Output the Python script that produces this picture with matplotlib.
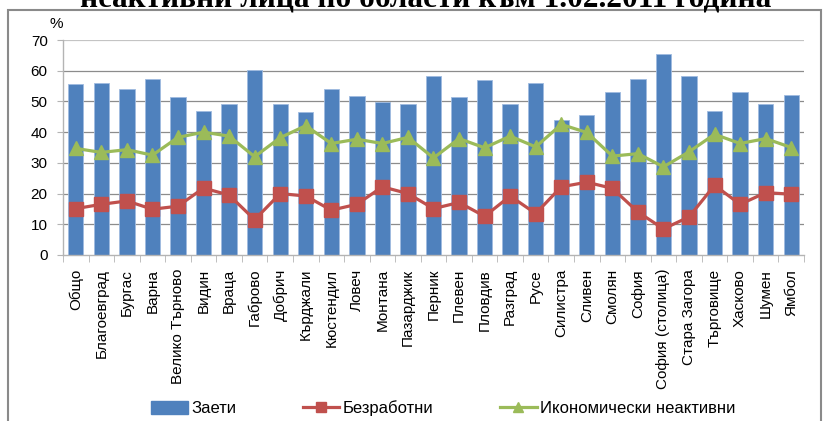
import numpy as np
import matplotlib
matplotlib.use('Agg')
import matplotlib.pyplot as plt
from matplotlib.patches import Rectangle, Patch
from matplotlib.lines import Line2D

plt.rcParams['font.family'] = ['Liberation Sans', 'DejaVu Sans']

# области и стойности в проценти
oblasti = ['Общо', 'Благоевград', 'Бургас', 'Варна', 'Велико Търново', 'Видин',
           'Враца', 'Габрово', 'Добрич', 'Кърджали', 'Кюстендил', 'Ловеч',
           'Монтана', 'Пазарджик', 'Перник', 'Плевен', 'Пловдив', 'Разград',
           'Русе', 'Силистра', 'Сливен', 'Смолян', 'София', 'София (столица)',
           'Стара Загора', 'Търговище', 'Хасково', 'Шумен', 'Ямбол']
zaeti = [55.6, 56.0, 54.2, 57.3, 51.6, 46.8, 49.1, 60.1, 49.3, 46.5, 54.2, 51.8,
         49.7, 49.3, 58.2, 51.3, 57.1, 49.1, 55.9, 44.1, 45.5, 53.0, 57.3, 65.5,
         58.2, 46.8, 53.0, 49.3, 52.2]
bezrabotni = [15.1, 16.5, 17.6, 14.9, 15.9, 21.8, 19.5, 11.5, 20.0, 19.2, 14.6,
              16.5, 22.2, 20.0, 15.1, 17.1, 12.6, 19.2, 13.5, 22.2, 23.7, 21.7,
              14.0, 8.5, 12.4, 22.7, 16.5, 20.3, 19.8]
neaktivni = [34.7, 33.4, 34.3, 32.5, 38.3, 40.0, 38.7, 32.0, 38.2, 42.1, 36.3,
             37.7, 36.3, 38.3, 31.6, 37.9, 34.9, 38.7, 35.2, 42.5, 39.9, 32.2,
             33.0, 28.7, 33.6, 39.3, 36.3, 37.9, 35.0]

blue = '#4f81bd'
red = '#c0504d'
green = '#9bbb59'

fig = plt.figure(figsize=(8.28, 4.21), dpi=100)
ax = fig.add_axes([63/828, 1 - 255/421, (804 - 63)/828, (255 - 40)/421])

x = np.arange(len(oblasti))
ax.bar(x, zaeti, width=0.6, color=blue, edgecolor='#9fbbe0', linewidth=0.6, zorder=2)
ax.plot(x, bezrabotni, color=red, lw=2.3, marker='s', markersize=9.5, zorder=3)
ax.plot(x, neaktivni, color=green, lw=2.3, marker='^', markersize=10.5, zorder=4)

ax.set_xlim(-0.5, len(oblasti) - 0.5)
ax.set_ylim(0, 70)

# хоризонтални линии на мрежата
for v in range(10, 70, 10):
    ax.axhline(v, color='#8c8c8c', lw=0.9, zorder=1)
ax.axhline(70, color='#c4c4c4', lw=1.6, zorder=1)

for s in ['top', 'right']:
    ax.spines[s].set_visible(False)
for s in ['left', 'bottom']:
    ax.spines[s].set_color('#b4b4b4')
    ax.spines[s].set_linewidth(1.0)

ax.set_yticks(range(0, 80, 10))
ax.tick_params(axis='y', length=4, color='#b4b4b4', pad=7, labelsize=11)
ax.set_xticks(x)
ax.set_xticklabels(oblasti, rotation=90, ha='center', va='top', fontsize=11)
ax.tick_params(axis='x', which='major', length=0, pad=10)
ax.set_xticks(np.arange(-0.5, len(oblasti)), minor=True)
ax.tick_params(axis='x', which='minor', length=5, color='#b4b4b4')

fig.text(56/828, 1 - 24/421, '%', fontsize=11, ha='center', va='center')

# заглавие, отрязано в горния край
fig.text(426/828, 1 - 6/421, 'неактивни лица по области към 1.02.2011 година',
         fontsize=22.5, fontweight='bold', family='Liberation Serif',
         ha='center', va='baseline')

# рамка около графиката
fig.patches.append(Rectangle((8/828, -0.05), (821 - 8)/828, 1.05 - 10/421,
                             transform=fig.transFigure, fill=False,
                             edgecolor='#8a8a8a', lw=1.5))

handles = [Patch(facecolor=blue, edgecolor=blue),
           Line2D([], [], color=red, lw=2.3, marker='s', markersize=7),
           Line2D([], [], color=green, lw=2.3, marker='^', markersize=7)]
ax.legend(handles, ['Заети', 'Безработни', 'Икономически неактивни'],
          loc='center left', bbox_to_anchor=(151/828, 1 - 408/421),
          bbox_transform=fig.transFigure, ncol=3, frameon=False,
          fontsize=12, handlelength=2.2, handleheight=0.8, handletextpad=0.2,
          columnspacing=4.0, borderpad=0, borderaxespad=0)

fig.savefig('out.png', dpi=100)
